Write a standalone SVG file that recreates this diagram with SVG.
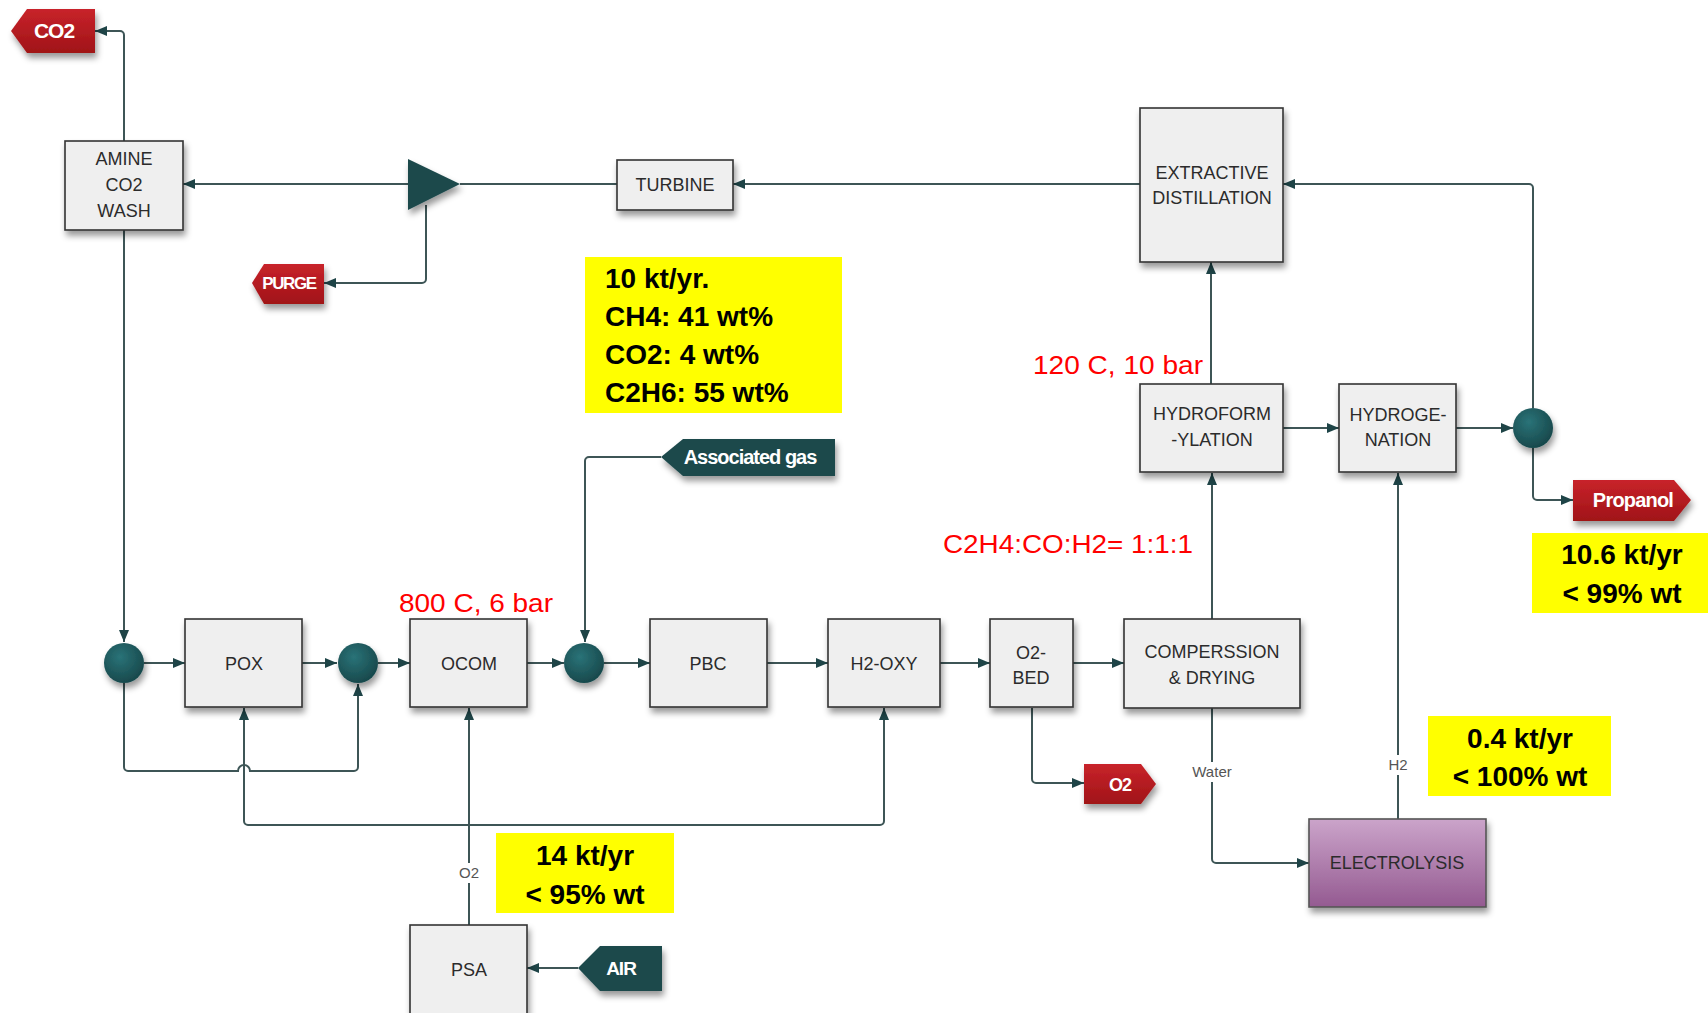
<svg xmlns="http://www.w3.org/2000/svg" width="1708" height="1013" viewBox="0 0 1708 1013">
<defs>
<style>
.box{fill:#efefef;stroke:#333;stroke-width:1.6}
.lbl{font-family:"Liberation Sans",Arial,sans-serif;font-size:18px;fill:#2b2b2b;text-anchor:middle}
.con{fill:none;stroke:#3d5556;stroke-width:2}
.tagr{fill:url(#red)}
.tagt{fill:#1e4a4c}
.tagtxt{font-family:"Liberation Sans",Arial,sans-serif;font-weight:bold;fill:#fff;text-anchor:middle}
.note{font-family:"Liberation Sans",Arial,sans-serif;font-weight:bold;font-size:28px;fill:#000}
.red{font-family:"Liberation Sans",Arial,sans-serif;font-size:26px;fill:#ff0000}
.small{font-family:"Liberation Sans",Arial,sans-serif;font-size:15px;fill:#555;text-anchor:middle}
.yel{fill:#ffff00}
.dot{fill:url(#teal)}
</style>
<linearGradient id="red" x1="0" y1="0" x2="0" y2="1"><stop offset="0" stop-color="#c8232a"/><stop offset="1" stop-color="#a01418"/></linearGradient>
<linearGradient id="purp" x1="0" y1="0" x2="0" y2="1"><stop offset="0" stop-color="#cba4ca"/><stop offset="1" stop-color="#945a91"/></linearGradient>
<radialGradient id="teal" cx="0.4" cy="0.35" r="0.7"><stop offset="0" stop-color="#2a7378"/><stop offset="1" stop-color="#174649"/></radialGradient>
<filter id="sh" x="-20%" y="-20%" width="140%" height="150%"><feDropShadow dx="2" dy="5" stdDeviation="3" flood-color="#000" flood-opacity="0.4"/></filter>
<marker id="ar" viewBox="0 0 12 10" refX="12" refY="5" markerWidth="12" markerHeight="10" markerUnits="userSpaceOnUse" orient="auto"><path d="M0,0 L12,5 L0,10 Z" fill="#1e4447"/></marker>
</defs>
<rect width="1708" height="1013" fill="#fff"/>

<g id="connectors">
<path class="con" d="M124,141 V35 a4,4 0 0 0 -4,-4 H95" marker-end="url(#ar)"/>
<path class="con" d="M408,184 H183" marker-end="url(#ar)"/>
<path class="con" d="M617,184 H460"/>
<path class="con" d="M1140,184 H733" marker-end="url(#ar)"/>
<path class="con" d="M426,205 V279 a4,4 0 0 1 -4,4 H324" marker-end="url(#ar)"/>
<path class="con" d="M1533,408 V188 a4,4 0 0 0 -4,-4 H1283" marker-end="url(#ar)"/>
<path class="con" d="M1533,448 V496 a4,4 0 0 0 4,4 H1573" marker-end="url(#ar)"/>
<path class="con" d="M1456,428 H1513" marker-end="url(#ar)"/>
<path class="con" d="M1283,428 H1339" marker-end="url(#ar)"/>
<path class="con" d="M1211,384 V262" marker-end="url(#ar)"/>
<path class="con" d="M1212,619 V473" marker-end="url(#ar)"/>
<path class="con" d="M1212,708 V859 a4,4 0 0 0 4,4 H1309" marker-end="url(#ar)"/>
<path class="con" d="M1398,819 V473" marker-end="url(#ar)"/>
<path class="con" d="M124,230 V642" marker-end="url(#ar)"/>
<path class="con" d="M144,663 H185" marker-end="url(#ar)"/>
<path class="con" d="M302,663 H337" marker-end="url(#ar)"/>
<path class="con" d="M378,663 H410" marker-end="url(#ar)"/>
<path class="con" d="M527,663 H564" marker-end="url(#ar)"/>
<path class="con" d="M604,663 H650" marker-end="url(#ar)"/>
<path class="con" d="M767,663 H828" marker-end="url(#ar)"/>
<path class="con" d="M940,663 H990" marker-end="url(#ar)"/>
<path class="con" d="M1073,663 H1124" marker-end="url(#ar)"/>
<path class="con" d="M661,457 H589 a4,4 0 0 0 -4,4 V642" marker-end="url(#ar)"/>
<path class="con" d="M124,683 V767 a4,4 0 0 0 4,4 H238 a6,6 0 0 1 12,0 H354 a4,4 0 0 0 4,-4 V684" marker-end="url(#ar)"/>
<path class="con" d="M469,925 V708" marker-end="url(#ar)"/>
<path class="con" d="M469,825 H248 a4,4 0 0 1 -4,-4 V708" marker-end="url(#ar)"/>
<path class="con" d="M469,825 H880 a4,4 0 0 0 4,-4 V708" marker-end="url(#ar)"/>
<path class="con" d="M578,968 H527" marker-end="url(#ar)"/>
<path class="con" d="M1032,708 V779 a4,4 0 0 0 4,4 H1084" marker-end="url(#ar)"/>
<rect x="1190" y="762" width="44" height="20" fill="#fff"/>
<text class="small" x="1212" y="777">Water</text>
<rect x="1386" y="755" width="24" height="20" fill="#fff"/>
<text class="small" x="1398" y="770">H2</text>
<rect x="457" y="863" width="24" height="20" fill="#fff"/>
<text class="small" x="469" y="878">O2</text>
</g>

<g id="co2-out"><path class="tagr" filter="url(#sh)" d="M11,31 L27,9 H95 V53 H27 Z"/><text class="tagtxt" x="54" y="38" font-size="21" letter-spacing="-1">CO2</text></g>
<g id="amine"><rect class="box" filter="url(#sh)" x="65" y="141" width="118" height="89"/><text class="lbl" x="124" y="164.5">AMINE</text><text class="lbl" x="124" y="190.5">CO2</text><text class="lbl" x="124" y="216.5">WASH</text></g>
<g id="splitter"><path d="M408,159 L460,184 L408,210 Z" fill="#1d4a4c" filter="url(#sh)"/></g>
<g id="purge"><path class="tagr" filter="url(#sh)" d="M252,283 L264,264 H324 V304 H264 Z"/><text class="tagtxt" x="289" y="289" font-size="17" letter-spacing="-1.4">PURGE</text></g>
<g id="turbine"><rect class="box" filter="url(#sh)" x="617" y="160" width="116" height="50"/><text class="lbl" x="675" y="191">TURBINE</text></g>
<g id="extractive"><rect class="box" filter="url(#sh)" x="1140" y="108" width="143" height="154"/><text class="lbl" x="1212" y="178.5">EXTRACTIVE</text><text class="lbl" x="1212" y="203.5">DISTILLATION</text></g>
<g id="note-feed"><rect class="yel" x="585" y="257" width="257" height="156"/><text class="note" x="605" y="288">10 kt/yr.</text><text class="note" x="605" y="326">CH4: 41 wt%</text><text class="note" x="605" y="364">CO2: 4 wt%</text><text class="note" x="605" y="402">C2H6: 55 wt%</text></g>
<g id="assoc-gas"><path class="tagt" filter="url(#sh)" d="M661,457 L683,439 H835 V476 H683 Z"/><text class="tagtxt" x="750" y="464" font-size="20" letter-spacing="-1">Associated gas</text></g>
<g id="hydroform"><rect class="box" filter="url(#sh)" x="1140" y="384" width="143" height="88"/><text class="lbl" x="1212" y="419.5">HYDROFORM</text><text class="lbl" x="1212" y="445.5">-YLATION</text></g>
<g id="hydrogenation"><rect class="box" filter="url(#sh)" x="1339" y="384" width="117" height="88"/><text class="lbl" x="1398" y="420.5">HYDROGE-</text><text class="lbl" x="1398" y="445.5">NATION</text></g>
<g id="mix4"><circle class="dot" filter="url(#sh)" cx="1533" cy="428" r="20"/></g>
<g id="propanol"><path class="tagr" filter="url(#sh)" d="M1573,480 H1674 L1691,500 L1674,521 H1573 Z"/><text class="tagtxt" x="1633" y="507" font-size="20" letter-spacing="-0.8">Propanol</text></g>
<g id="note-propanol"><rect class="yel" x="1532" y="533" width="176" height="80"/><text class="note" x="1622" y="564" text-anchor="middle">10.6 kt/yr</text><text class="note" x="1622" y="603" text-anchor="middle">&lt; 99% wt</text></g>
<text class="red" x="1033" y="374" textLength="170" lengthAdjust="spacingAndGlyphs">120 C, 10 bar</text>
<text class="red" x="943" y="553" textLength="250" lengthAdjust="spacingAndGlyphs">C2H4:CO:H2= 1:1:1</text>
<text class="red" x="399" y="612" textLength="154" lengthAdjust="spacingAndGlyphs">800 C, 6 bar</text>
<g id="mix1"><circle class="dot" filter="url(#sh)" cx="124" cy="663" r="20"/></g>
<g id="pox"><rect class="box" filter="url(#sh)" x="185" y="619" width="117" height="88"/><text class="lbl" x="244" y="669.5">POX</text></g>
<g id="mix2"><circle class="dot" filter="url(#sh)" cx="358" cy="663" r="20"/></g>
<g id="ocom"><rect class="box" filter="url(#sh)" x="410" y="619" width="117" height="88"/><text class="lbl" x="469" y="669.5">OCOM</text></g>
<g id="mix3"><circle class="dot" filter="url(#sh)" cx="584" cy="663" r="20"/></g>
<g id="pbc"><rect class="box" filter="url(#sh)" x="650" y="619" width="117" height="88"/><text class="lbl" x="708" y="669.5">PBC</text></g>
<g id="h2oxy"><rect class="box" filter="url(#sh)" x="828" y="619" width="112" height="88"/><text class="lbl" x="884" y="669.5">H2-OXY</text></g>
<g id="o2bed"><rect class="box" filter="url(#sh)" x="990" y="619" width="83" height="88"/><text class="lbl" x="1031" y="658.5">O2-</text><text class="lbl" x="1031" y="683.5">BED</text></g>
<g id="compression"><rect class="box" filter="url(#sh)" x="1124" y="619" width="176" height="89"/><text class="lbl" x="1212" y="657.5">COMPERSSION</text><text class="lbl" x="1212" y="683.5">&amp; DRYING</text></g>
<g id="o2-out"><path class="tagr" filter="url(#sh)" d="M1084,764 H1141 L1156,784 L1141,804 H1084 Z"/><text class="tagtxt" x="1120" y="790.5" font-size="18" letter-spacing="-1">O2</text></g>
<g id="electrolysis"><rect filter="url(#sh)" x="1309" y="819" width="177" height="88" fill="url(#purp)" stroke="#555" stroke-width="1.6"/><text class="lbl" x="1397" y="868.5">ELECTROLYSIS</text></g>
<g id="note-h2"><rect class="yel" x="1428" y="716" width="183" height="80"/><text class="note" x="1520" y="748" text-anchor="middle">0.4 kt/yr</text><text class="note" x="1520" y="786" text-anchor="middle">&lt; 100% wt</text></g>
<g id="note-o2"><rect class="yel" x="496" y="833" width="178" height="80"/><text class="note" x="585" y="865" text-anchor="middle">14 kt/yr</text><text class="note" x="585" y="904" text-anchor="middle">&lt; 95% wt</text></g>
<g id="psa"><rect class="box" filter="url(#sh)" x="410" y="925" width="117" height="95"/><text class="lbl" x="469" y="975.5">PSA</text></g>
<g id="air"><path class="tagt" filter="url(#sh)" d="M578,968 L600,946 H662 V991 H600 Z"/><text class="tagtxt" x="621" y="975" font-size="19" letter-spacing="-1">AIR</text></g>
</svg>
